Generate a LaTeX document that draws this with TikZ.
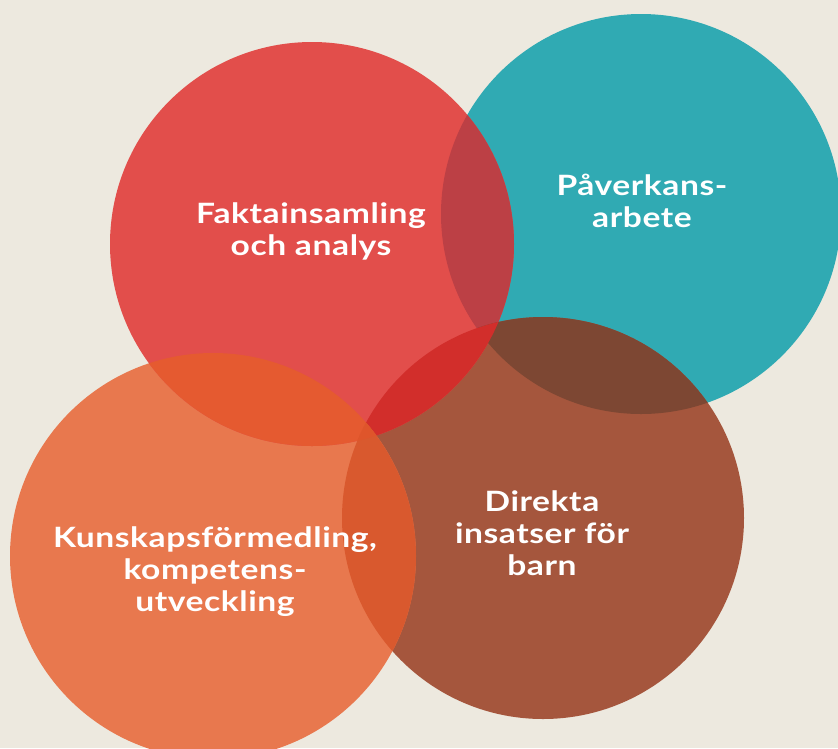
\documentclass[tikz,border=0pt]{standalone}
\usepackage{fontspec}
\setmainfont{Lato}
\newfontfamily\lblfont[FakeStretch=1.2,LetterSpace=2]{Lato}
\definecolor{bg}{HTML}{EDE9DF}
\definecolor{cred}{HTML}{E24E4B}
\definecolor{cteal}{HTML}{30AAB3}
\definecolor{corange}{HTML}{E8784E}
\definecolor{cbrown}{HTML}{A5563D}
\definecolor{cRT}{HTML}{BC4045}
\definecolor{cTB}{HTML}{7D4733}
\definecolor{cRB}{HTML}{D22E2B}
\definecolor{cRO}{HTML}{E55A30}
\definecolor{cOB}{HTML}{D9592E}
\definecolor{cROB}{HTML}{DF552B}
\tikzset{lbl/.style={text=white, align=center, font=\lblfont\fontsize{28}{32}\selectfont\bfseries}}
\begin{document}
\begin{tikzpicture}[x=1pt,y=-1pt]
\fill[bg] (0,0) rectangle (838,748);
\useasboundingbox (0,0) rectangle (838,748);
\coordinate (R) at (312,244);
\coordinate (T) at (641,214);
\coordinate (O) at (213,556);
\coordinate (B) at (543,518);
\def\rR{202}\def\rT{200}\def\rO{203}\def\rB{201}
% base circles
\fill[cteal] (T) circle (\rT);
\fill[cbrown] (B) circle (\rB);
\fill[corange] (O) circle (\rO);
\fill[cred] (R) circle (\rR);
% pairwise overlaps
\begin{scope}\clip (R) circle (\rR); \fill[cRT] (T) circle (\rT); \end{scope}
\begin{scope}\clip (T) circle (\rT); \fill[cTB] (B) circle (\rB); \end{scope}
\begin{scope}\clip (R) circle (\rR); \fill[cRB] (B) circle (\rB); \end{scope}
\begin{scope}\clip (R) circle (\rR); \fill[cRO] (O) circle (\rO); \end{scope}
\begin{scope}\clip (O) circle (\rO); \fill[cOB] (B) circle (\rB); \end{scope}
\begin{scope}\clip (R) circle (\rR); \clip (O) circle (\rO); \fill[cROB] (B) circle (\rB); \end{scope}
% labels
\node[lbl] (lR) at (311,231) {Faktainsamling\\och analys};
\node[lbl] (lT) at (642,201) {Påverkans-\\arbete};
\node[lbl] (lO) at (215,572) {Kunskapsförmedling,\\kompetens-\\utveckling};
\node[lbl] (lB) at (542,533) {Direkta\\insatser för\\barn};
\end{tikzpicture}
\end{document}
